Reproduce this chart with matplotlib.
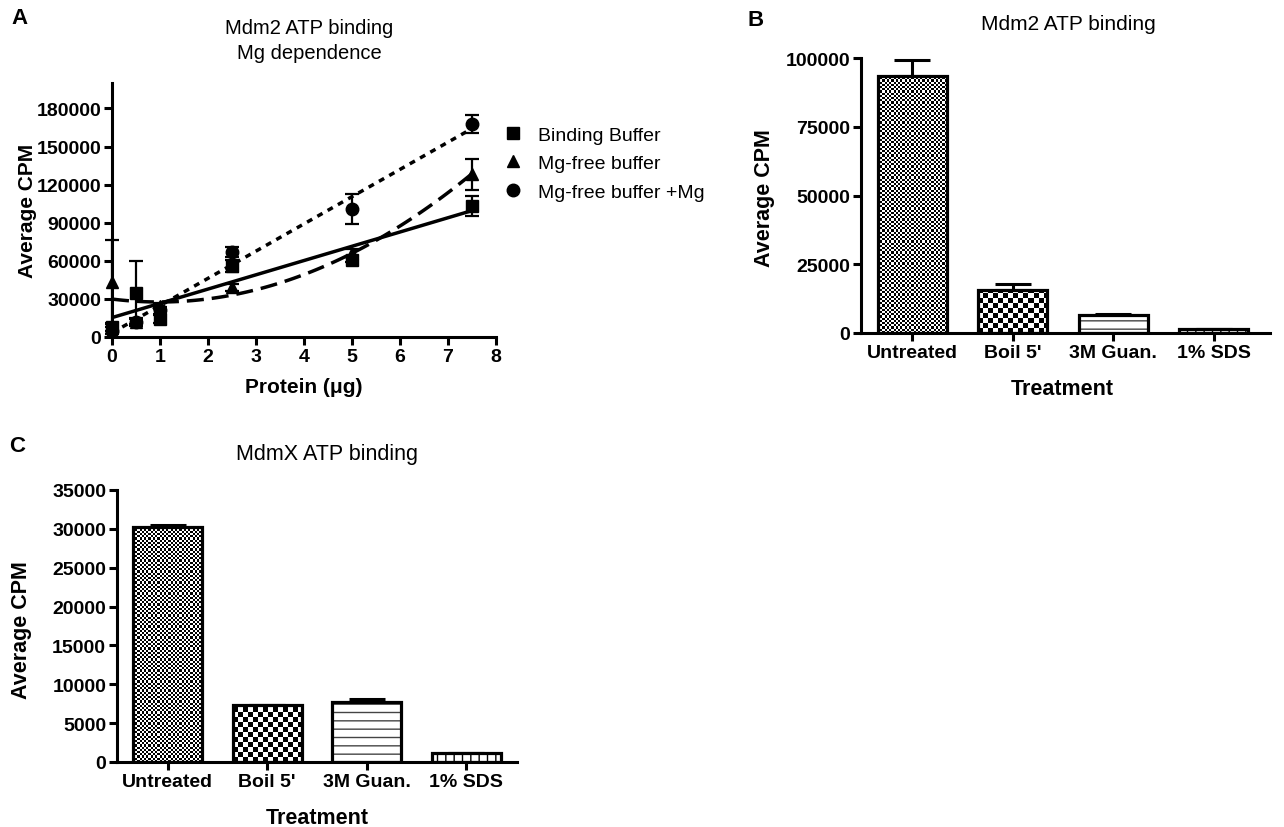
import numpy as np
import matplotlib
matplotlib.use("Agg")
import matplotlib.pyplot as plt

plt.rcParams['font.family'] = ['Liberation Sans', 'DejaVu Sans']
plt.rcParams['font.weight'] = 'bold'
plt.rcParams['axes.labelweight'] = 'bold'
plt.rcParams['hatch.linewidth'] = 1.0

# panel A: protein titration
protein = [0, 0.5, 1, 2.5, 5, 7.5]
bind_buf = [8000, 35000, 14000, 56000, 61000, 103000]
bind_err = [3000, 25000, 3000, 5000, 2000, 8000]
mgfree = [43500, 12000, 24600, 39000, 66000, 128000]
mgfree_err = [33000, 3000, 2000, 3000, 3000, 12000]
mgplus = [5000, 12000, 21000, 67000, 100600, 168000]
mgplus_err = [3000, 2000, 3000, 4000, 12000, 7000]

# panels B, C: treatments
treatments = ["Untreated", "Boil 5'", "3M Guan.", "1% SDS"]
mdm2_cpm = [93600, 15500, 6500, 1300]
mdm2_err = [5700, 2500, 500, 200]
mdmx_cpm = [30200, 7300, 7700, 1100]
mdmx_err = [300, 0, 350, 0]

W, H = 1284, 828
fig = plt.figure(figsize=(W / 100, H / 100), dpi=100)


def px_axes(l, r, b, t):
    return fig.add_axes([l / W, 1 - b / H, (r - l) / W, (b - t) / H])


def style(ax):
    for s in ['top', 'right']:
        ax.spines[s].set_visible(False)
    for s in ['left', 'bottom']:
        ax.spines[s].set_linewidth(2.2)
        ax.spines[s].set_capstyle('projecting')
    ax.tick_params(direction='out', length=5.8, width=2.2, labelsize=14, pad=2)


def checker(ax, bar, sq):
    # black/white checker texture clipped to the bar
    x0, y0 = bar.get_x(), bar.get_y()
    w, h = bar.get_width(), bar.get_height()
    p0 = ax.transData.transform((x0, y0))
    p1 = ax.transData.transform((x0 + w, y0 + h))
    nx = int(np.ceil((p1[0] - p0[0]) / sq))
    ny = int(np.ceil((p1[1] - p0[1]) / sq))
    ii, jj = np.indices((ny, nx))
    img = (ii + jj) % 2
    upx = (p1[1] - p0[1]) / h
    im = ax.imshow(img, cmap='gray', extent=(x0, x0 + nx * sq * w / (p1[0] - p0[0]), y0, y0 + ny * sq / upx),
                   origin='lower', interpolation='nearest', aspect='auto', zorder=2)
    im.set_clip_path(bar)


def bar_panel(ax, vals, errs, ymax, step, xr):
    x = np.arange(len(vals))
    ax.set_xlim(-0.51, xr)
    ax.set_ylim(0, ymax)
    bars = ax.bar(x, vals, width=0.69, facecolor='none', edgecolor='black', linewidth=2.3, zorder=3)
    checker(ax, bars[0], 2.2)
    checker(ax, bars[1], 5)
    ax.bar(x[2], vals[2], width=0.69, facecolor='white', edgecolor='#444444', linewidth=0, hatch='--', zorder=2)
    ax.bar(x[3], vals[3], width=0.69, facecolor='white', edgecolor='black', linewidth=0, hatch='||', zorder=2)
    ax.errorbar(x, vals, yerr=[np.zeros(len(vals)), errs], fmt='none', ecolor='black',
                elinewidth=2.2, capsize=13, capthick=2.2, zorder=1)
    ax.set_xlim(-0.51, xr)
    ax.set_ylim(0, ymax)
    ax.set_yticks(np.arange(0, ymax + 1, step))
    ax.set_xticks(x)
    ax.set_xticklabels(treatments)
    style(ax)
    ax.set_ylabel("Average CPM", fontsize=15.5, fontweight='bold')
    ax.set_xlabel("Treatment", fontsize=15.5, fontweight='bold')


# ---- A ----
axA = px_axes(112, 496, 338, 84)
fx = np.linspace(0, 7.5, 100)
fits = [(bind_buf, 1, None), (mgfree, 2, (4.9, 2.3)), (mgplus, 1, (1.7, 1.7))]
for ys, deg, dash in fits:
    c = np.polyfit(protein, ys, deg)
    ln, = axA.plot(fx, np.polyval(c, fx), color='black', lw=2.5, linestyle='-', zorder=2)
    if dash:
        ln.set_dashes(dash)
axA.errorbar(protein, bind_buf, yerr=bind_err, fmt='s', color='black', ms=9, elinewidth=1.6,
             capsize=4.7, capthick=1.6, clip_on=False, zorder=3, label="Binding Buffer")
axA.errorbar(protein, mgfree, yerr=mgfree_err, fmt='^', color='black', ms=9, elinewidth=1.6,
             capsize=4.7, capthick=1.6, clip_on=False, zorder=3, label="Mg-free buffer")
axA.errorbar(protein, mgplus, yerr=mgplus_err, fmt='o', color='black', ms=9, elinewidth=1.6,
             capsize=4.7, capthick=1.6, clip_on=False, zorder=3, label="Mg-free buffer +Mg")
axA.set_xlim(0, 8)
axA.set_ylim(0, 200000)
axA.set_xticks(range(0, 9))
axA.set_yticks(range(0, 180001, 30000))
style(axA)
axA.set_ylabel("Average CPM", fontsize=15, fontweight='bold')
axA.set_xlabel("Protein (\u03bcg)", fontsize=15, fontweight='bold')
axA.yaxis.set_label_coords(-0.195, 0.5)
axA.xaxis.set_label_coords(0.5, -0.157)
h, l = axA.get_legend_handles_labels()
h = [hh[0] for hh in h]
axA.legend(h, l, loc='upper left', bbox_to_anchor=(505 / W, 1 - 127 / H), bbox_transform=fig.transFigure,
           frameon=False, prop={'weight': 'normal', 'size': 14}, handlelength=0.8, handletextpad=0.88,
           borderpad=0, borderaxespad=0, labelspacing=0.56)
fig.text(309 / W, 1 - 41 / H, "Mdm2 ATP binding\nMg dependence", ha='center', va='center',
         fontsize=14.5, fontweight='normal', linespacing=1.38)

# ---- B ----
axB = px_axes(861, 1270, 334, 59)
bar_panel(axB, mdm2_cpm, mdm2_err, 100000, 25000, 3.56)
axB.yaxis.set_label_coords(-0.21, 0.496)
axB.xaxis.set_label_coords(0.491, -0.164)
fig.text(1068 / W, 1 - 25 / H, "Mdm2 ATP binding", ha='center', va='center', fontsize=15, fontweight='normal')

# ---- C ----
axC = px_axes(117, 517, 763, 491)
bar_panel(axC, mdmx_cpm, mdmx_err, 35000, 5000, 3.51)
axC.yaxis.set_label_coords(-0.2125, 0.49)
axC.xaxis.set_label_coords(0.5, -0.164)
fig.text(327 / W, 1 - 455 / H, "MdmX ATP binding", ha='center', va='center', fontsize=15.5, fontweight='normal')

# panel letters
for lab, px, py in [("A", 20, 18), ("B", 756, 21), ("C", 17, 447)]:
    fig.text(px / W, 1 - py / H, lab, ha='center', va='center', fontsize=16, fontweight='bold')

fig.savefig("out.png", dpi=100)
